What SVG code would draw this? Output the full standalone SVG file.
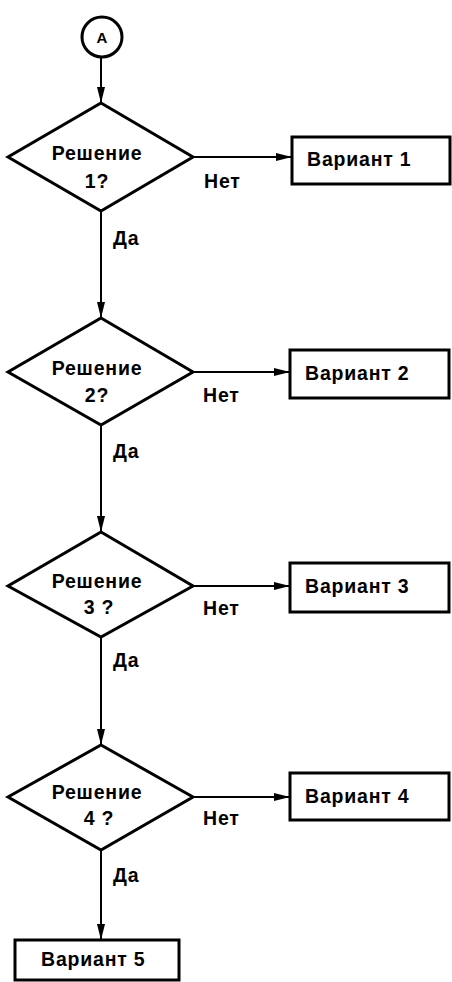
<svg xmlns="http://www.w3.org/2000/svg" width="452" height="982" viewBox="0 0 452 982">
<style>
.shape{fill:#fff;stroke:#000;stroke-width:3;stroke-linejoin:miter}
.line{fill:none;stroke:#000;stroke-width:2}
text{font-family:"Liberation Sans",Arial,sans-serif;font-size:19.5px;font-weight:bold;letter-spacing:0.8px;fill:#000}
.c{text-anchor:middle}
</style>
<defs>
<marker id="ah" viewBox="0 0 16 8" refX="16" refY="4" markerWidth="16" markerHeight="8" markerUnits="userSpaceOnUse" orient="auto">
<path d="M0,0 L16,4 L0,8 Z" fill="#000"/>
</marker>
</defs>
<rect width="452" height="982" fill="#fff"/>
<g id="connectors">
<line class="line" x1="101" y1="57" x2="101" y2="103" marker-end="url(#ah)"/>
<line class="line" x1="193" y1="157" x2="292" y2="157" marker-end="url(#ah)"/>
<line class="line" x1="101" y1="211" x2="101" y2="318" marker-end="url(#ah)"/>
<line class="line" x1="193" y1="372" x2="290" y2="372" marker-end="url(#ah)"/>
<line class="line" x1="101" y1="425" x2="101" y2="532" marker-end="url(#ah)"/>
<line class="line" x1="193" y1="586" x2="290" y2="586" marker-end="url(#ah)"/>
<line class="line" x1="101" y1="637" x2="101" y2="745" marker-end="url(#ah)"/>
<line class="line" x1="193" y1="797" x2="290" y2="797" marker-end="url(#ah)"/>
<line class="line" x1="101" y1="850" x2="101" y2="940" marker-end="url(#ah)"/>
<text x="204" y="188">Нет</text>
<text x="113" y="245">Да</text>
<text x="203" y="402">Нет</text>
<text x="113" y="458">Да</text>
<text x="203" y="615">Нет</text>
<text x="113" y="667">Да</text>
<text x="203" y="825">Нет</text>
<text x="113" y="882">Да</text>
</g>
<g id="start">
<circle class="shape" cx="102" cy="37" r="20"/>
<text class="c" x="102" y="43" style="font-size:15px;letter-spacing:0">A</text>
</g>
<g id="decision1">
<polygon class="shape" points="101,103 193,157 101,211 8,157"/>
<text class="c" x="97" y="160">Решение</text>
<text class="c" x="97" y="188">1?</text>
</g>
<g id="variant1">
<rect class="shape" x="292" y="137" width="158" height="47"/>
<text x="307" y="166">Вариант 1</text>
</g>
<g id="decision2">
<polygon class="shape" points="101,318 193,372 101,425 8,372"/>
<text class="c" x="97" y="375">Решение</text>
<text class="c" x="97" y="402">2?</text>
</g>
<g id="variant2">
<rect class="shape" x="290" y="350" width="159" height="48"/>
<text x="305" y="380">Вариант 2</text>
</g>
<g id="decision3">
<polygon class="shape" points="101,532 193,586 101,637 8,586"/>
<text class="c" x="97" y="588">Решение</text>
<text class="c" x="99" y="614">3 ?</text>
</g>
<g id="variant3">
<rect class="shape" x="290" y="563" width="159" height="49"/>
<text x="305" y="593">Вариант 3</text>
</g>
<g id="decision4">
<polygon class="shape" points="101,745 193,797 101,850 8,797"/>
<text class="c" x="97" y="799">Решение</text>
<text class="c" x="99" y="825">4 ?</text>
</g>
<g id="variant4">
<rect class="shape" x="290" y="773" width="159" height="47"/>
<text x="305" y="803">Вариант 4</text>
</g>
<g id="variant5">
<rect class="shape" x="15" y="940" width="164" height="40"/>
<text x="41" y="966">Вариант 5</text>
</g>
</svg>
